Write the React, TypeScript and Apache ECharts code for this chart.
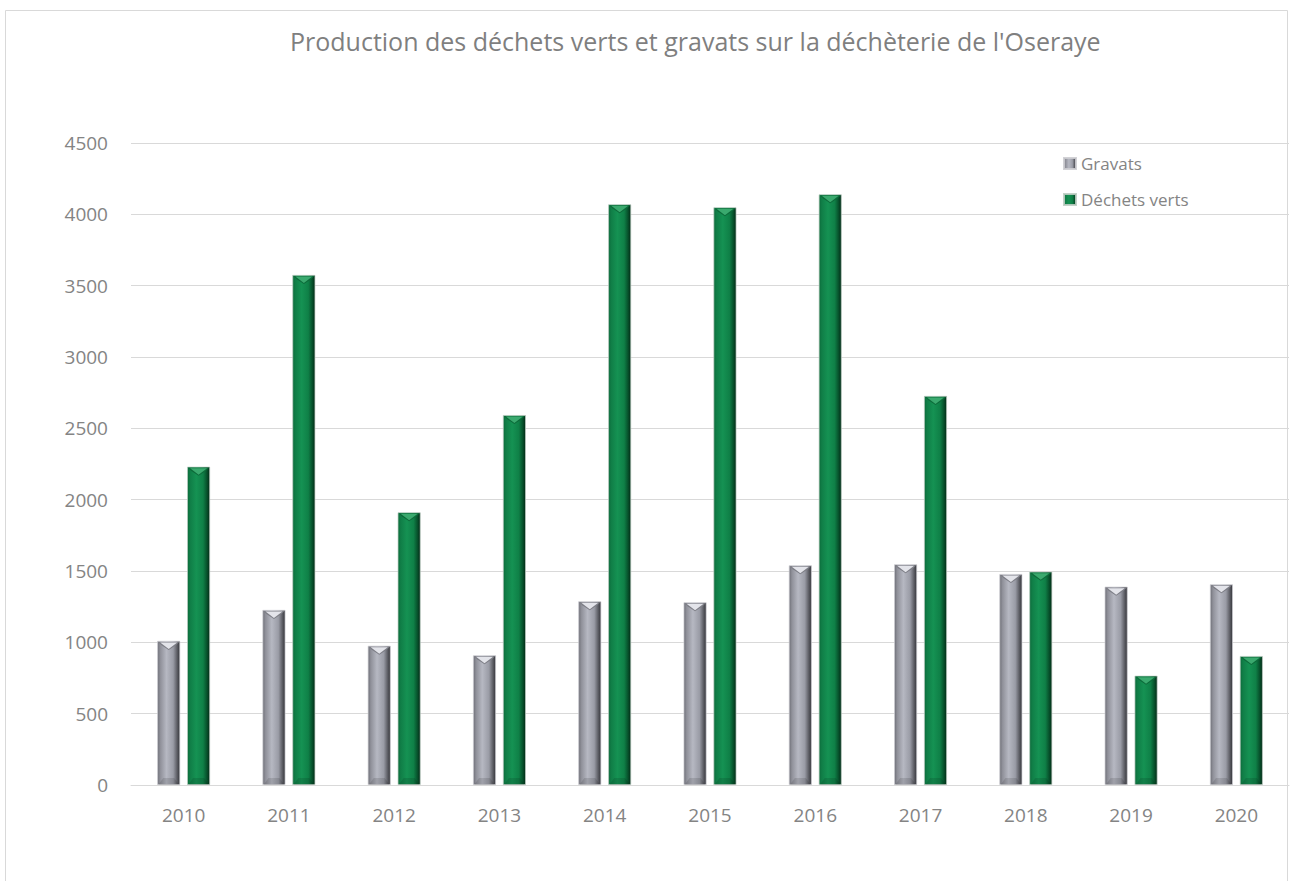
import React, { useEffect, useRef } from "react";
import * as echarts from "echarts";

const years = ["2010", "2011", "2012", "2013", "2014", "2015", "2016", "2017", "2018", "2019", "2020"];
const gravats = [1010, 1227, 976, 909, 1288, 1281, 1540, 1547, 1479, 1390, 1407];
const dechetsVerts = [2231, 3575, 1911, 2593, 4070, 4049, 4140, 2727, 1495, 766, 904];
const seriesNames = ["Gravats", "Déchets verts"];
const titleText = "Production des déchets verts et gravats sur la déchèterie de l'Oseraye";

const FONT = "'Open Sans', 'Noto Sans', sans-serif";
const TEXT_COLOR = "#848484";
const BAR_W = 23;
const GAP_RATIO = 0.3;

const grayGrad = new echarts.graphic.LinearGradient(0, 0, 1, 0, [
  { offset: 0, color: "#6e6f77" },
  { offset: 0.12, color: "#8f9099" },
  { offset: 0.4, color: "#b6b8c2" },
  { offset: 0.7, color: "#9a9ca6" },
  { offset: 0.88, color: "#5c5d64" },
  { offset: 1, color: "#35363b" },
]);
const greenGrad = new echarts.graphic.LinearGradient(0, 0, 1, 0, [
  { offset: 0, color: "#0c6b3b" },
  { offset: 0.12, color: "#107e47" },
  { offset: 0.4, color: "#159253" },
  { offset: 0.7, color: "#0f8047" },
  { offset: 0.88, color: "#07502b" },
  { offset: 1, color: "#032a16" },
]);

function bevel(seriesIdx: number, topColor: string, sideColor: string) {
  return (params: any, api: any) => {
    const idx = api.value(0);
    const v = api.value(1);
    const base = api.coord([idx, 0]);
    const top = api.coord([idx, v]);
    const gap = BAR_W * GAP_RATIO;
    const total = BAR_W * 2 + gap;
    const cx = seriesIdx === 0 ? base[0] - total / 2 + BAR_W / 2 : base[0] + total / 2 - BAR_W / 2;
    const x0 = cx - BAR_W / 2;
    const x1 = cx + BAR_W / 2;
    const yt = top[1];
    const yb = base[1];
    if (yb - yt < 16) return null;
    return {
      type: "group",
      children: [
        {
          type: "polygon",
          shape: { points: [[x0 + 1, yt + 1], [x1 - 1, yt + 1], [x1 - 4, yt + 4], [cx, yt + 9], [x0 + 4, yt + 4]] },
          style: { fill: sideColor },
          silent: true,
        },
        {
          type: "polygon",
          shape: { points: [[x0 + 3, yt + 1.5], [x1 - 3, yt + 1.5], [cx, yt + 8]] },
          style: { fill: topColor },
          silent: true,
        },
        {
          type: "polygon",
          shape: { points: [[x0 + 1, yb], [x1 - 1, yb], [x1 - 6, yb - 7], [x0 + 6, yb - 7]] },
          style: { fill: "rgba(0,0,0,0.12)" },
          silent: true,
        },
      ],
    };
  };
}

export default function App() {
  const ref = useRef<HTMLDivElement>(null);
  useEffect(() => {
    document.body.style.margin = "0";
    const chart = echarts.init(ref.current!, null, { renderer: "svg" });
    const option: any = {
      animation: false,
      backgroundColor: "#ffffff",
      title: {
        text: titleText,
        left: 290,
        top: 28,
        padding: 0,
        textStyle: { fontFamily: FONT, fontSize: 25, fontWeight: "normal", color: "#7f7f7f" },
      },
      legend: {
        orient: "vertical",
        left: 1063,
        top: 155,
        padding: 0,
        itemWidth: 12,
        itemHeight: 11,
        itemGap: 19,
        icon: "rect",
        data: seriesNames,
        textStyle: { fontFamily: FONT, fontSize: 17, color: TEXT_COLOR },
      },
      grid: { left: 131, right: 4, top: 143, bottom: 96, containLabel: false },
      xAxis: {
        type: "category",
        data: years,
        axisLine: { lineStyle: { color: "#d9d9d9", width: 1 } },
        axisTick: { show: false },
        axisLabel: { fontFamily: FONT, fontSize: 19, color: TEXT_COLOR, margin: 20 },
      },
      yAxis: {
        type: "value",
        min: 0,
        max: 4500,
        interval: 500,
        axisLine: { show: false },
        axisTick: { show: false },
        splitLine: { lineStyle: { color: "#d9d9d9", width: 1 } },
        axisLabel: {
          fontFamily: FONT,
          fontSize: 19,
          color: TEXT_COLOR,
          margin: 23,
          formatter: (v: number) => String(v),
        },
      },
      series: [
        {
          name: seriesNames[0],
          type: "bar",
          data: gravats,
          barWidth: BAR_W,
          barGap: GAP_RATIO * 100 + "%",
          itemStyle: { color: grayGrad, borderColor: "rgba(205,205,210,0.9)", borderWidth: 0.8 },
        },
        {
          name: seriesNames[1],
          type: "bar",
          data: dechetsVerts,
          barWidth: BAR_W,
          barGap: GAP_RATIO * 100 + "%",
          itemStyle: { color: greenGrad, borderColor: "rgba(190,205,195,0.9)", borderWidth: 0.8 },
        },
        {
          type: "custom",
          name: "bevelG",
          silent: true,
          z: 3,
          renderItem: bevel(0, "#e3e4ea", "#7d7e86"),
          data: gravats.map((v, i) => [i, v]),
          encode: { x: 0, y: 1 },
        },
        {
          type: "custom",
          name: "bevelD",
          silent: true,
          z: 3,
          renderItem: bevel(1, "#3aa96e", "#0d6a3a"),
          data: dechetsVerts.map((v, i) => [i, v]),
          encode: { x: 0, y: 1 },
        },
      ],
      graphic: [
        {
          type: "rect",
          shape: { x: 5.5, y: 10.5, width: 1282, height: 880 },
          style: { fill: "none", stroke: "#d9d9d9", lineWidth: 1 },
          silent: true,
          z: -10,
        },
      ],
    };
    chart.setOption(option);
    return () => chart.dispose();
  }, []);
  return <div ref={ref} style={{ width: 1293, height: 881 }} />;
}
